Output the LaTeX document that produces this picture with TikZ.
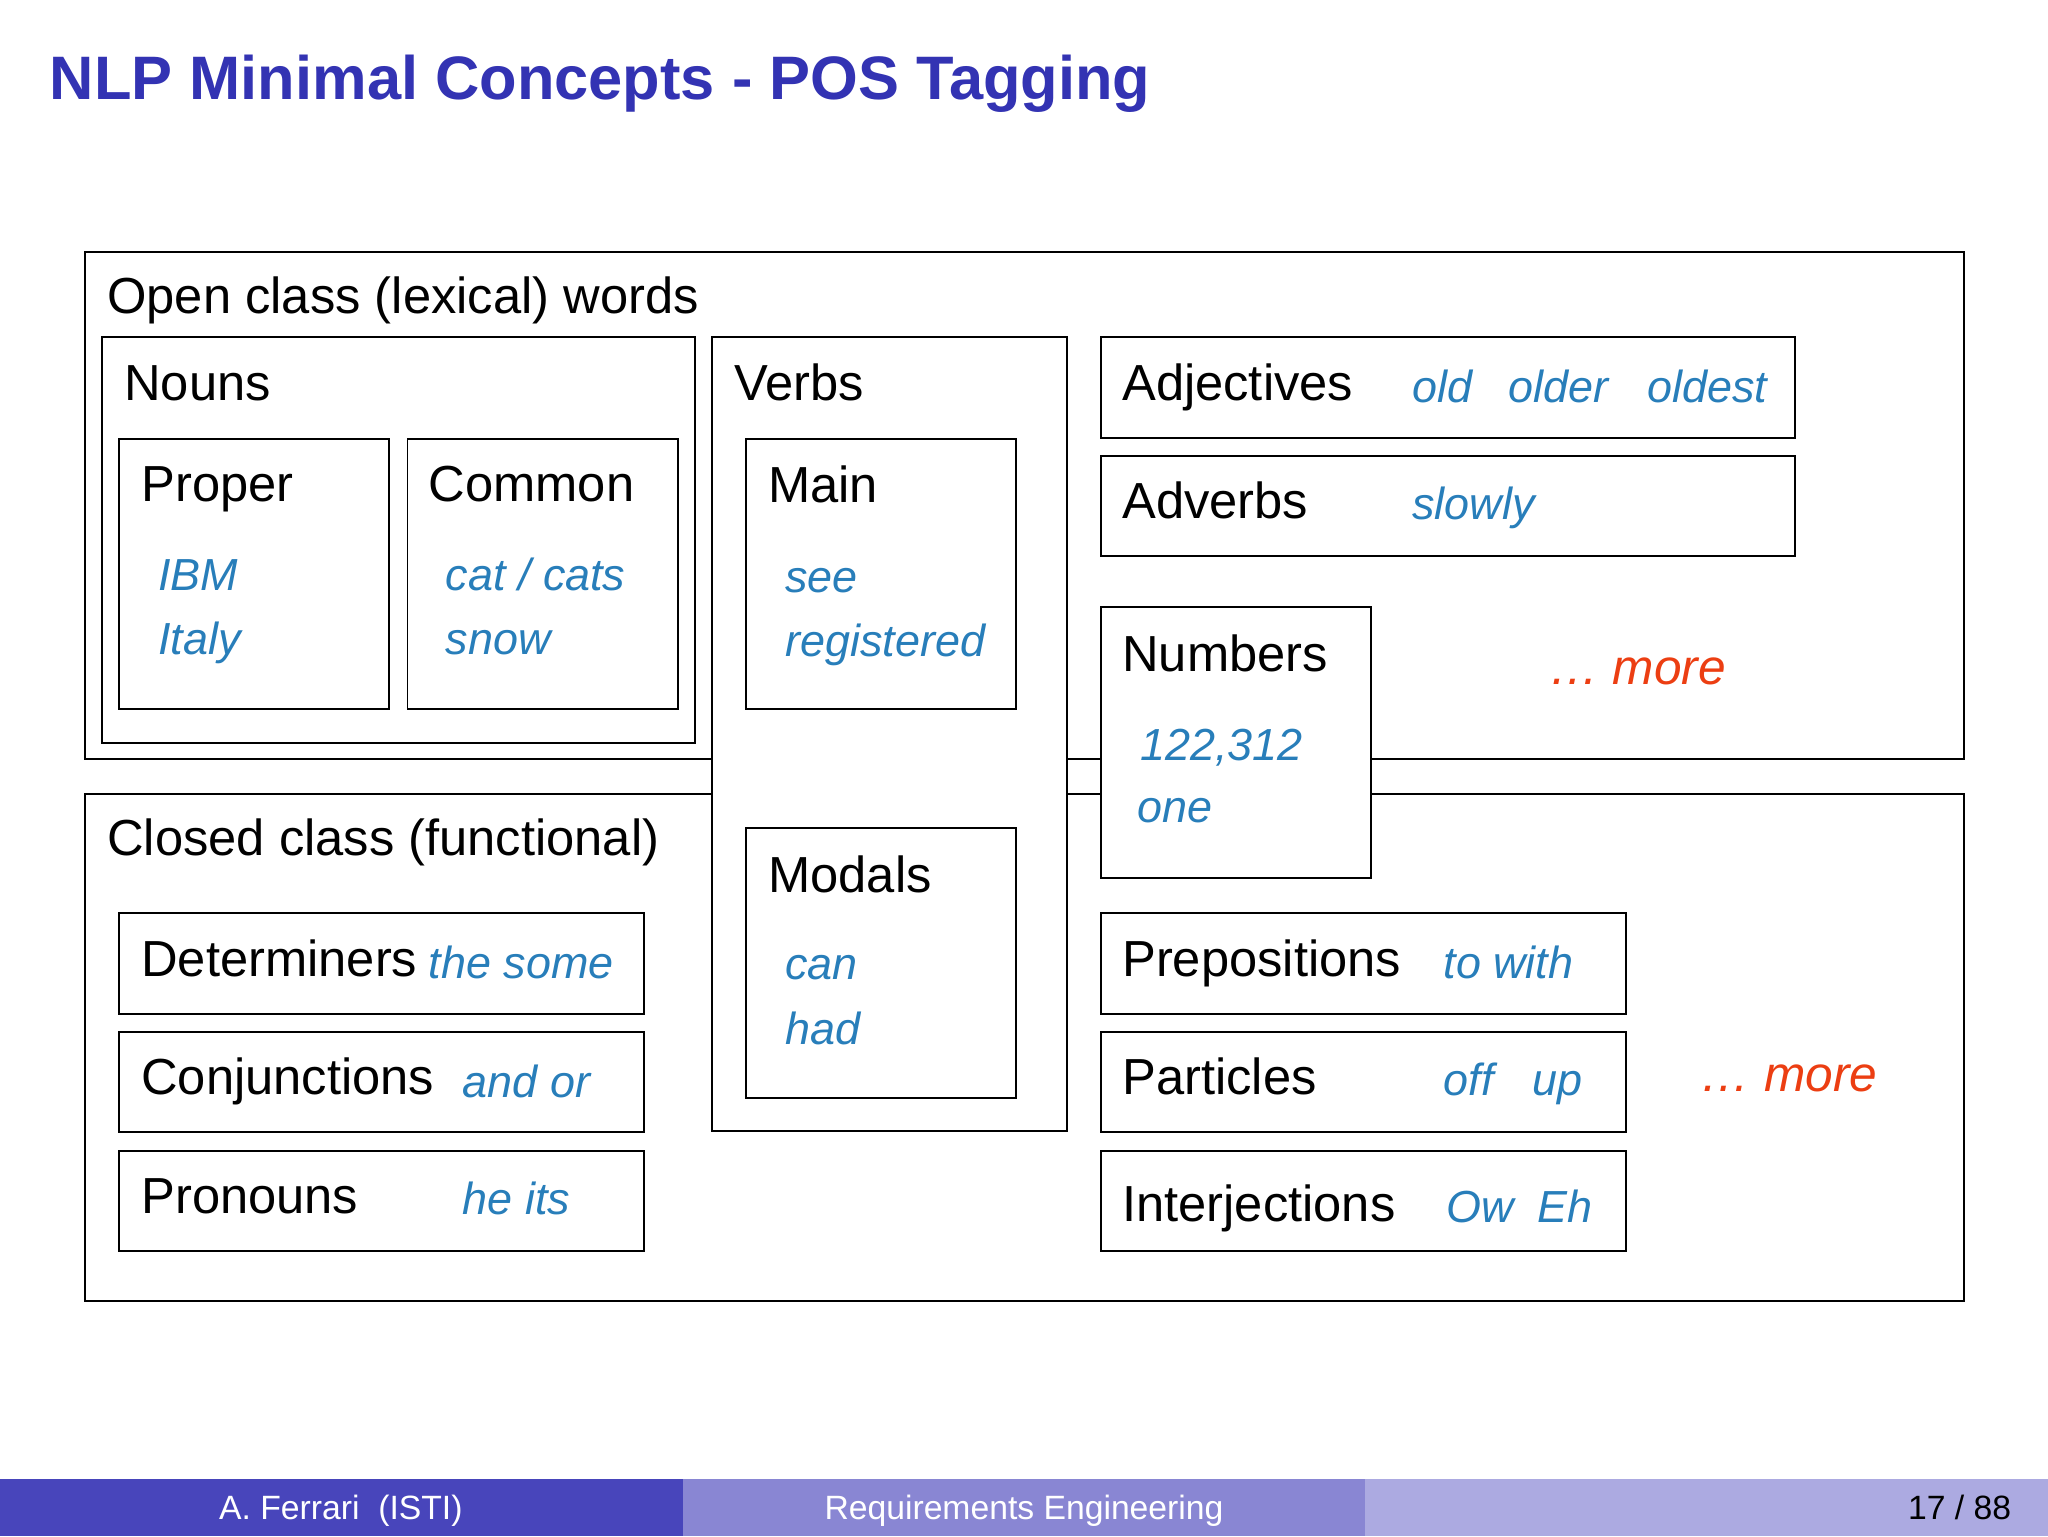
\documentclass[tikz,border=0pt]{standalone}
\usepackage{fontspec}
\setmainfont{Liberation Sans}
\definecolor{titleblue}{RGB}{51,51,179}
\definecolor{exblue}{RGB}{40,126,186}
\definecolor{morered}{RGB}{236,62,18}
\definecolor{footA}{RGB}{72,69,187}
\definecolor{footB}{RGB}{137,134,211}
\definecolor{footC}{RGB}{172,170,225}
\begin{document}
\begin{tikzpicture}[x=1pt,y=-1pt,
  box/.style={draw=black,line width=1.5pt,fill=white,inner sep=0pt,outer sep=0pt,anchor=north west},
  lab/.style={anchor=base west,inner sep=0pt,font=\fontsize{38.8}{46}\selectfont},
  ex/.style={anchor=base west,inner sep=0pt,text=exblue,font=\fontsize{34.4}{41}\selectfont\itshape},
  moretxt/.style={anchor=base west,inner sep=0pt,text=morered,font=\fontsize{38}{46}\selectfont\itshape},
  footbar/.style={anchor=north west,inner sep=0pt,outer sep=0pt,minimum height=44pt,minimum width=522.67pt},
  foottxt/.style={inner sep=0pt,font=\fontsize{25.8}{30}\selectfont}
]
\useasboundingbox (0,0) rectangle (1568,1176);
\fill[white] (0,0) rectangle (1568,1176);

% title
\node[anchor=base west,inner sep=0pt,text=titleblue,font=\fontsize{47}{56}\selectfont\bfseries] (title) at (38,76) {NLP Minimal Concepts - POS Tagging};

% class boxes
\node[box,minimum width=1439pt,minimum height=388pt] (open) at (65,193) {};
\node[box,minimum width=1439pt,minimum height=388pt] (closed) at (65,608) {};
\node[lab] (openlab) at (82,240) {Open class (lexical) words};
\node[lab] (closedlab) at (82,655) {Closed class (functional)};

% nouns
\node[box,minimum width=454pt,minimum height=311pt] (nouns) at (78,258) {};
\node[lab] (nounslab) at (95,307) {Nouns};
\node[box,minimum width=207pt,minimum height=207pt] (proper) at (91,336) {};
\node[lab] (properlab) at (108,384) {Proper};
\node[ex] (ibm) at (121,452) {IBM};
\node[ex] (italy) at (121,501) {Italy};
\node[box,minimum width=207pt,minimum height=207pt] (common) at (312,336) {};
\node[lab] (commonlab) at (328,384) {Common};
\node[ex] (cat) at (341,452) {cat / cats};
\node[ex] (snow) at (341,501) {snow};

% adjectives, adverbs
\node[box,minimum width=531pt,minimum height=77pt] (adj) at (843,258) {};
\node[lab] (adjlab) at (859,307) {Adjectives};
\node[ex] (old) at (1081,308) {old};
\node[ex] (older) at (1155,308) {older};
\node[ex] (oldest) at (1261,308) {oldest};
\node[box,minimum width=531pt,minimum height=77pt] (adv) at (843,349) {};
\node[lab] (advlab) at (859,397) {Adverbs};
\node[ex] (slowly) at (1081,398) {slowly};
\node[moretxt] (more1) at (1186,524) {\ldots\ more};

% closed class members
\node[box,minimum width=402pt,minimum height=77pt] (det) at (91,699) {};
\node[lab] (detlab) at (108,748) {Determiners};
\node[ex] (detex) at (328,749) {the some};
\node[box,minimum width=402pt,minimum height=77pt] (conj) at (91,790) {};
\node[lab] (conjlab) at (108,838) {Conjunctions};
\node[ex] (conjex) at (354,840) {and or};
\node[box,minimum width=402pt,minimum height=77pt] (pron) at (91,881) {};
\node[lab] (pronlab) at (108,929) {Pronouns};
\node[ex] (pronex) at (354,930) {he its};

\node[box,minimum width=402pt,minimum height=77pt] (prep) at (843,699) {};
\node[lab] (preplab) at (859,748) {Prepositions};
\node[ex] (prepex) at (1105,749) {to with};
\node[box,minimum width=402pt,minimum height=77pt] (part) at (843,790) {};
\node[lab] (partlab) at (859,838) {Particles};
\node[ex] (off) at (1105,839) {off};
\node[ex] (up) at (1173,839) {up};
\node[box,minimum width=402pt,minimum height=77pt] (interj) at (843,881) {};
\node[lab] (interjlab) at (859,935) {Interjections};
\node[ex] (ow) at (1107,936) {Ow};
\node[ex] (eh) at (1177,936) {Eh};
\node[moretxt] (more2) at (1302,836) {\ldots\ more};

% verbs (over both classes)
\node[box,minimum width=272pt,minimum height=608pt] (verbs) at (545,258) {};
\node[lab] (verbslab) at (562,307) {Verbs};
\node[box,minimum width=207pt,minimum height=207pt] (main) at (571,336) {};
\node[lab] (mainlab) at (588,385) {Main};
\node[ex] (see) at (601,454) {see};
\node[ex] (reg) at (601,503) {registered};
\node[box,minimum width=207pt,minimum height=207pt] (modals) at (571,634) {};
\node[lab] (modalslab) at (588,683) {Modals};
\node[ex] (can) at (601,750) {can};
\node[ex] (had) at (601,800) {had};

% numbers (over both classes)
\node[box,minimum width=207pt,minimum height=207pt] (numbers) at (843,465) {};
\node[lab] (numlab) at (859,514) {Numbers};
\node[ex] (num) at (873,582) {122,312};
\node[ex] (one) at (871,630) {one};

% footer
\node[footbar,fill=footA] (f1) at (0,1132) {};
\node[footbar,fill=footB] (f2) at (522.67,1132) {};
\node[footbar,fill=footC] (f3) at (1045.33,1132) {};
\node[foottxt,text=white,anchor=base] (auth) at (261,1163) {A. Ferrari\ \ (ISTI)};
\node[foottxt,text=white,anchor=base] (ftitle) at (784,1163) {Requirements Engineering};
\node[foottxt,text=black,anchor=base east] (page) at (1540,1163) {17 / 88};
\end{tikzpicture}
\end{document}
